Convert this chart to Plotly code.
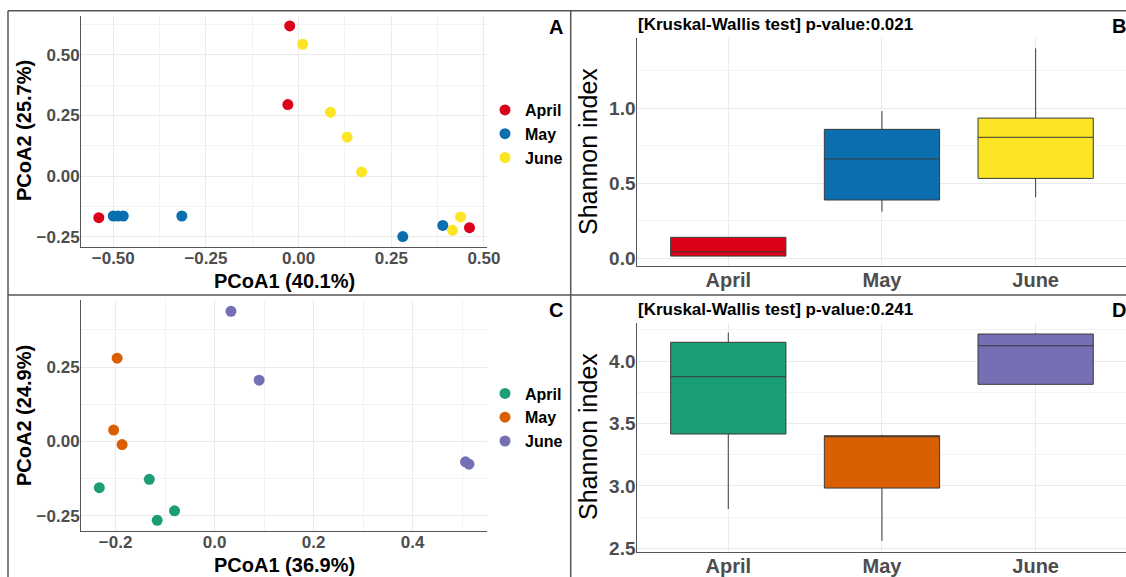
import plotly.graph_objects as go

W, H = 1126, 577

# ---------------- data ----------------
months = ["April", "May", "June"]

# Panel A (PCoA, Shannon group 1)
A_april_x = [-0.539, -0.024, -0.029, 0.461]
A_april_y = [-0.172, 0.620, 0.295, -0.213]
A_may_x = [-0.500, -0.487, -0.473, -0.315, 0.281, 0.389]
A_may_y = [-0.165, -0.165, -0.165, -0.165, -0.250, -0.204]
A_june_x = [0.011, 0.086, 0.131, 0.170, 0.437, 0.415]
A_june_y = [0.544, 0.264, 0.161, 0.017, -0.169, -0.224]

# Panel C
C_april_x = [-0.233, -0.132, -0.116, -0.081]
C_april_y = [-0.156, -0.128, -0.266, -0.234]
C_may_x = [-0.197, -0.204, -0.187]
C_may_y = [0.280, 0.038, -0.011]
C_june_x = [0.033, 0.090, 0.507, 0.514]
C_june_y = [0.438, 0.206, -0.069, -0.077]

# Panel B boxplot stats (lower fence, q1, median, q3, upper fence)
B_low = [0.015, 0.311, 0.407]
B_q1 = [0.015, 0.389, 0.533]
B_med = [0.044, 0.663, 0.807]
B_q3 = [0.140, 0.860, 0.935]
B_up = [0.140, 0.982, 1.400]

# Panel D boxplot stats
D_low = [2.815, 2.561, 3.814]
D_q1 = [3.416, 2.983, 3.814]
D_med = [3.875, 3.400, 4.123]
D_q3 = [4.151, 3.402, 4.217]
D_up = [4.228, 3.410, 4.225]

pval_B = "0.021"
pval_D = "0.241"

colors_top = ["#DE0018", "#0A6EAF", "#FCE524"]
colors_bot = ["#1B9E77", "#D95F02", "#7570B3"]

FONT = "Liberation Sans, Arial, sans-serif"
TICK_GRAY = "#4D4D4D"
AXIS_LINE = "#555555"
GRID = "#EBEBEB"
MINOR = "#F3F3F3"

def px_x(p):
    return p / W

def px_y(p):
    return 1 - p / H

fig = go.Figure()

# ---------------- scatter panels ----------------
for name, xs, ys, col in zip(months, [A_april_x, A_may_x, A_june_x],
                             [A_april_y, A_may_y, A_june_y], colors_top):
    fig.add_trace(go.Scatter(x=xs, y=ys, mode="markers", name=name,
                             marker=dict(color=col, size=11, line=dict(width=0)),
                             xaxis="x", yaxis="y", legend="legend"))

for name, xs, ys, col in zip(months, [C_april_x, C_may_x, C_june_x],
                             [C_april_y, C_may_y, C_june_y], colors_bot):
    fig.add_trace(go.Scatter(x=xs, y=ys, mode="markers", name=name,
                             marker=dict(color=col, size=11, line=dict(width=0)),
                             xaxis="x3", yaxis="y3", legend="legend2"))

# ---------------- box panels ----------------
for i, name in enumerate(months):
    fig.add_trace(go.Box(x=[name], q1=[B_q1[i]], median=[B_med[i]], q3=[B_q3[i]],
                         lowerfence=[B_low[i]], upperfence=[B_up[i]],
                         fillcolor=colors_top[i], line=dict(color="#3a3a3a", width=1),
                         whiskerwidth=0, width=0.75, boxpoints=False,
                         showlegend=False, xaxis="x2", yaxis="y2", hoverinfo="skip"))
    fig.add_trace(go.Box(x=[name], q1=[D_q1[i]], median=[D_med[i]], q3=[D_q3[i]],
                         lowerfence=[D_low[i]], upperfence=[D_up[i]],
                         fillcolor=colors_bot[i], line=dict(color="#3a3a3a", width=1),
                         whiskerwidth=0, width=0.75, boxpoints=False,
                         showlegend=False, xaxis="x4", yaxis="y4", hoverinfo="skip"))

def axis(domain, rng, dtick=None, minor=None, fmt=None, size=17, anchor=None,
         cat=False, standoff=0):
    d = dict(domain=domain, range=rng, showline=True, linecolor=AXIS_LINE, linewidth=1,
             mirror=False, zeroline=False, showgrid=True, gridcolor=GRID, gridwidth=1,
             ticks="", ticklabelstandoff=standoff, automargin=False,
             tickfont=dict(family=FONT, size=size, color=TICK_GRAY, weight="bold"),
             anchor=anchor, fixedrange=True)
    if cat:
        d["type"] = "category"
        d["categoryorder"] = "array"
        d["categoryarray"] = months
    else:
        d["dtick"] = dtick
        d["tick0"] = 0
        d["tickformat"] = fmt
        if minor:
            d["minor"] = dict(dtick=minor, tick0=0, showgrid=True, gridcolor=MINOR, gridwidth=1)
    return d

# Domains (pixel based)
dxA = [px_x(81), px_x(487.3)]
dyA = [px_y(247), px_y(16)]
dxB = [px_x(637.3), 1.0]
dyB = [px_y(266), px_y(38)]
dyC = [px_y(530.7), px_y(300)]
dyD = [px_y(551.7), px_y(323.3)]

fig.update_layout(
    xaxis=axis(dxA, [-0.587, 0.509], 0.25, 0.125, ".2f", 17, "y", standoff=-4),
    yaxis=axis(dyA, [-0.293, 0.661], 0.25, 0.125, ".2f", 17, "x", standoff=-3),
    xaxis2=axis(dxB, [-0.592, 2.588], cat=True, size=20, anchor="y2", standoff=-4),
    yaxis2=axis(dyB, [-0.051, 1.469], 0.5, 0.25, ".1f", 19, "x2", standoff=-3),
    xaxis3=axis(dxA, [-0.270, 0.551], 0.2, 0.1, ".1f", 17, "y3", standoff=-4),
    yaxis3=axis(dyC, [-0.301, 0.476], 0.25, 0.125, ".2f", 17, "x3", standoff=-3),
    xaxis4=axis(dxB, [-0.592, 2.588], cat=True, size=20, anchor="y4", standoff=-4),
    yaxis4=axis(dyD, [2.473, 4.303], 0.5, 0.25, ".1f", 19, "x4", standoff=-3),
)

legend_common = dict(font=dict(family=FONT, size=16, color="black", weight="bold"),
                     bgcolor="rgba(0,0,0,0)", borderwidth=0, itemwidth=30,
                     xanchor="left", yanchor="middle", tracegroupgap=0,
                     itemclick=False, itemdoubleclick=False)
fig.update_layout(
    legend=dict(x=px_x(485), y=px_y(134), **legend_common),
    legend2=dict(x=px_x(485), y=px_y(417.5), **legend_common),
)

annotations = []
def txt(x, y, text, size, color="black", weight="bold", xanchor="center", angle=0):
    annotations.append(dict(x=px_x(x), y=px_y(y), xref="paper", yref="paper", text=text,
                            showarrow=False, xanchor=xanchor, yanchor="middle",
                            textangle=angle,
                            font=dict(family=FONT, size=size, color=color, weight=weight)))

# axis titles
txt(284, 281, "PCoA1 (40.1%)", 20)
txt(24, 131, "PCoA2 (25.7%)", 20, angle=-90)
txt(284, 565, "PCoA1 (36.9%)", 20)
txt(24, 416, "PCoA2 (24.9%)", 20, angle=-90)
txt(588, 152, "Shannon index", 25, weight="normal", angle=-90)
txt(588, 437, "Shannon index", 25, weight="normal", angle=-90)
# test titles
txt(636, 25, "[Kruskal-Wallis test] p-value:" + pval_B, 17, xanchor="left")
txt(636, 309.5, "[Kruskal-Wallis test] p-value:" + pval_D, 17, xanchor="left")
# panel letters
txt(555.5, 27, "A", 20)
txt(1118.5, 26, "B", 20)
txt(555.5, 310, "C", 20)
txt(1118.5, 310, "D", 20)

# frame lines
line_style = dict(color="#555555", width=1.5)
shapes = [
    dict(type="line", xref="paper", yref="paper", x0=px_x(8), x1=1, y0=px_y(10.7), y1=px_y(10.7), line=line_style),
    dict(type="line", xref="paper", yref="paper", x0=px_x(8), x1=px_x(8), y0=px_y(10.7), y1=0, line=line_style),
    dict(type="line", xref="paper", yref="paper", x0=px_x(570.7), x1=px_x(570.7), y0=px_y(10.7), y1=0, line=line_style),
    dict(type="line", xref="paper", yref="paper", x0=px_x(8), x1=1, y0=px_y(295), y1=px_y(295), line=line_style),
]

fig.update_layout(
    width=W, height=H, margin=dict(l=0, r=0, t=0, b=0, autoexpand=False),
    paper_bgcolor="white", plot_bgcolor="white",
    annotations=annotations, shapes=shapes,
    font=dict(family=FONT),
    boxmode="overlay",
)

fig.write_html("out.html", config={"displayModeBar": False},
               post_script="document.body.style.margin='0';document.body.style.overflow='hidden';")
